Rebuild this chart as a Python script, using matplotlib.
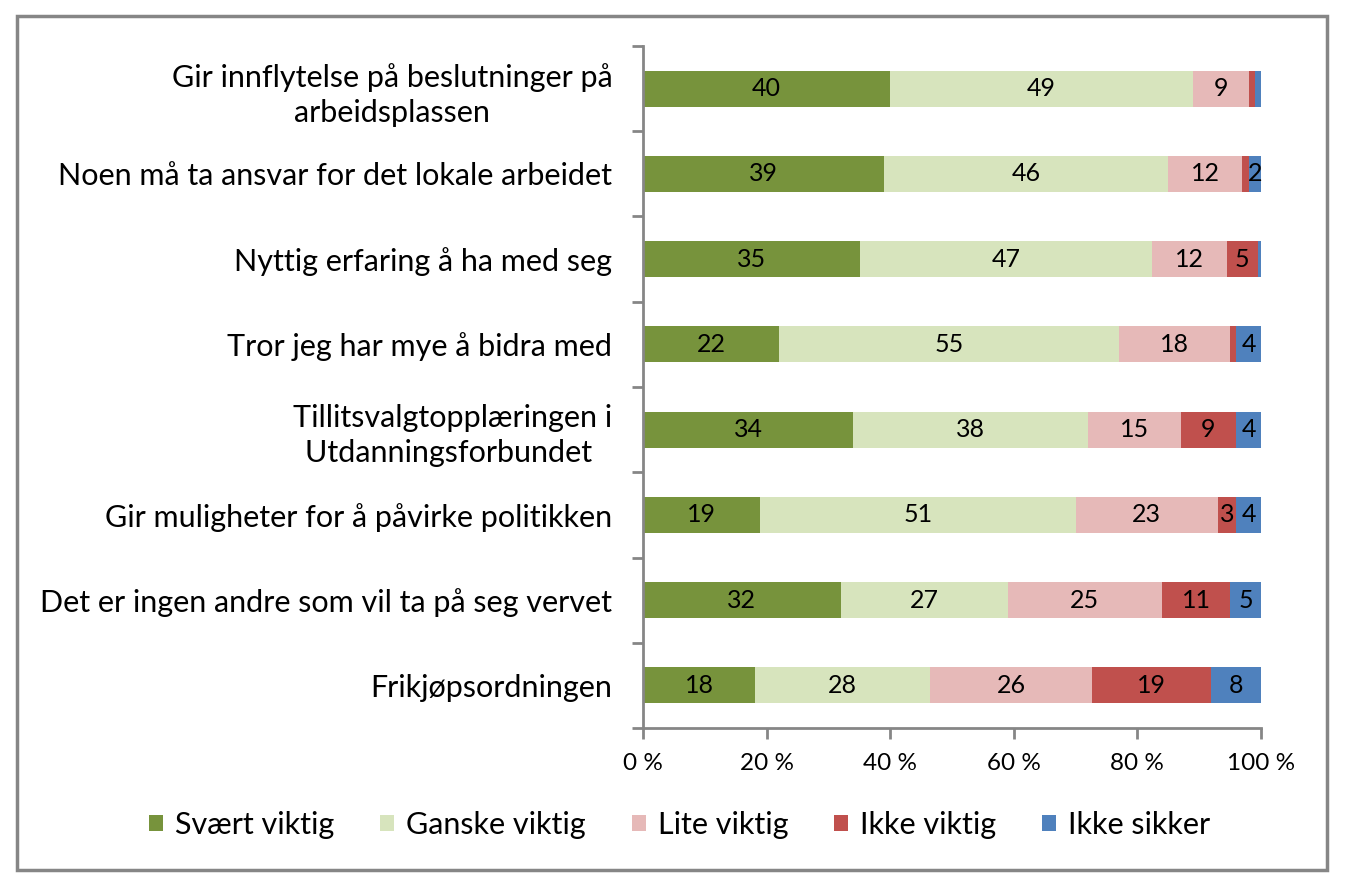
import matplotlib
matplotlib.use('Agg')
import numpy as np
import matplotlib.pyplot as plt
from matplotlib.patches import Rectangle

categories = [
    'Gir innflytelse på beslutninger på\narbeidsplassen',
    'Noen må ta ansvar for det lokale arbeidet',
    'Nyttig erfaring å ha med seg',
    'Tror jeg har mye å bidra med',
    'Tillitsvalgtopplæringen i\nUtdanningsforbundet ',
    'Gir muligheter for å påvirke politikken',
    'Det er ingen andre som vil ta på seg vervet',
    'Frikjøpsordningen',
]
series = ['Svært viktig', 'Ganske viktig', 'Lite viktig', 'Ikke viktig', 'Ikke sikker']
svaert = [40, 39, 35, 22, 34, 19, 32, 18]
ganske = [49, 46, 47, 55, 38, 51, 27, 28]
lite = [9, 12, 12, 18, 15, 23, 25, 26]
ikke_viktig = [1, 1, 5, 1, 9, 3, 11, 19]
ikke_sikker = [1, 2, 0.5, 4, 4, 4, 5, 8]
colors = ['#77933C', '#D7E4BD', '#E6B9B8', '#C0504D', '#4F81BD']

plt.rcParams['font.family'] = ['Lato', 'DejaVu Sans']

fig = plt.figure(figsize=(13.46, 8.75), dpi=100)
ax = fig.add_axes([643 / 1346, 1 - 728 / 875, (1261 - 643) / 1346, (728 - 46) / 875])

values = np.array([svaert, ganske, lite, ikke_viktig, ikke_sikker], dtype=float)
# 100 % stacked: each row scaled to its total
shares = values / values.sum(axis=0) * 100
y = np.arange(len(categories))
left = np.zeros(len(categories))
for name, vals, share, color in zip(series, values, shares, colors):
    bars = ax.barh(y, share, left=left, height=0.42, color=color, label=name)
    for b, v in zip(bars, vals):
        if v >= 2:
            ax.text(b.get_x() + b.get_width() / 2, b.get_y() + b.get_height() / 2, f'{v:.0f}',
                    ha='center', va='center', fontsize=18, color='black')
    left += share

ax.set_xlim(0, 100)
ax.set_ylim(len(categories) - 0.5, -0.5)
ax.set_xticks(np.arange(0, 101, 20))
ax.set_xticklabels([f'{t} %' for t in range(0, 101, 20)], fontsize=17.5)
ax.set_yticks(y)
ax.set_yticklabels(categories, fontsize=22, multialignment='center', linespacing=1.3)
ax.tick_params(axis='y', length=0, pad=22)
ax.set_yticks(np.arange(-0.5, len(categories), 1), minor=True)
ax.tick_params(axis='y', which='minor', length=8, color='#868686', width=2)
ax.tick_params(axis='x', length=8, color='#868686', width=2, pad=10)
for s in ['top', 'right']:
    ax.spines[s].set_visible(False)
for s in ['left', 'bottom']:
    ax.spines[s].set_color('#868686')
    ax.spines[s].set_linewidth(2)

fig.legend(loc='center', bbox_to_anchor=(0.505, 1 - 825 / 875), ncol=5, frameon=False,
           fontsize=22, handlelength=0.45, handleheight=0.45, handletextpad=0.4, columnspacing=1.5)

fig.patches.append(Rectangle((17 / 1346, 1 - 870 / 875), (1327 - 17) / 1346, (870 - 16) / 875,
                             transform=fig.transFigure, fill=False, edgecolor='#868686', linewidth=2.5))

fig.savefig('out.png', dpi=100)
